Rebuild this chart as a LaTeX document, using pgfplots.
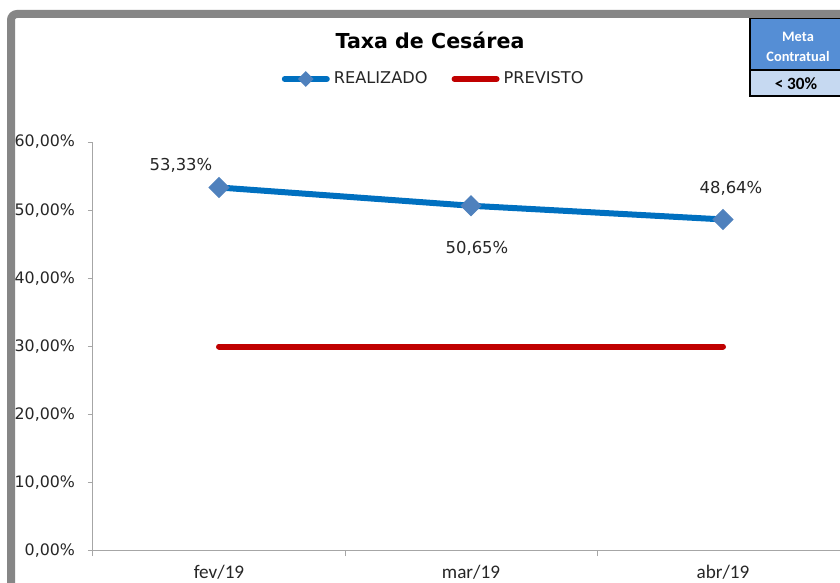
\documentclass[border=0pt]{standalone}
\usepackage{pgfplots}
\pgfplotsset{compat=1.18}
\usepackage{fontspec}
\setmainfont{DejaVu Sans}
\newfontfamily\carlito{Carlito}
\definecolor{realblue}{HTML}{0070C0}
\definecolor{markblue}{HTML}{4F81BD}
\definecolor{prevred}{HTML}{C00000}
\definecolor{axgray}{HTML}{A6A6A6}
\definecolor{boxblue}{HTML}{558ED5}
\definecolor{boxlight}{HTML}{C6D9F1}
\definecolor{txt}{HTML}{262626}
\begin{document}
\begin{tikzpicture}
\useasboundingbox (0,0) rectangle (420pt,291.5pt);
\clip (0,0) rectangle (420pt,291.5pt);
\fill[white] (0,0) rectangle (420pt,291.5pt);
\begin{axis}[
  at={(46.5pt,16pt)}, anchor=south west,
  scale only axis, width=378pt, height=204.5pt,
  xmin=-0.5, xmax=2.5, ymin=0, ymax=0.6,
  axis x line*=bottom, axis y line*=left,
  axis line style={axgray, line width=0.5pt},
  xtick={0,1,2}, xticklabels={fev/19,mar/19,abr/19},
  major x tick style={draw=none},
  minor xtick={-0.5,0.5,1.5,2.5},
  minor x tick style={axgray, line width=0.5pt},
  minor tick length=2.5pt,
  ytick={0,0.1,0.2,0.3,0.4,0.5,0.6},
  yticklabels={{0,00\%},{10,00\%},{20,00\%},{30,00\%},{40,00\%},{50,00\%},{60,00\%}},
  major y tick style={axgray, line width=0.5pt},
  major tick length=2.5pt,
  tick align=outside,
  xticklabel style={font=\carlito\fontsize{9.6pt}{11pt}\selectfont, text=txt, yshift=-1pt},
  yticklabel style={font=\fontsize{7.9pt}{9pt}\selectfont, text=txt, xshift=-3pt},
  legend style={at={(0.452,1.154)}, anchor=center, draw=none, fill=none,
    font=\fontsize{8.1pt}{10pt}\selectfont, text=txt,
    /tikz/every even column/.append style={column sep=10pt}},
  legend columns=2,
  legend cell align=left,
  clip=false,
]
\addplot[realblue, line width=3pt, mark=square*, mark size=3.5pt,
  mark options={rotate=45, fill=markblue, draw=markblue, line width=0.5pt},
  legend image code/.code={
    \draw[realblue, line width=3pt, line cap=round] (0pt,0pt) -- (21pt,0pt);
    \fill[markblue] (10.5pt,1.8pt) -- (12.3pt,0pt) -- (10.5pt,-1.8pt) -- (8.7pt,0pt) -- cycle;}]
  coordinates {(0,0.5333) (1,0.5065) (2,0.4864)};
\addlegendentry{REALIZADO}
\addplot[prevred, line width=3pt, line cap=round,
  legend image code/.code={
    \draw[prevred, line width=3pt, line cap=round] (0pt,0pt) -- (21pt,0pt);}]
  coordinates {(0,0.30) (1,0.30) (2,0.30)};
\addlegendentry{PREVISTO}
% data labels
\addplot[draw=none, mark=none, forget plot, nodes near coords, point meta=explicit symbolic,
  every node near coord/.style={anchor=center, xshift=-19pt, yshift=11pt, text=txt, font=\fontsize{8.2pt}{10pt}\selectfont}]
  coordinates {(0,0.5333) [53,33\%]};
\addplot[draw=none, mark=none, forget plot, nodes near coords, point meta=explicit symbolic,
  every node near coord/.style={anchor=center, xshift=3pt, yshift=-21.5pt, text=txt, font=\fontsize{8.2pt}{10pt}\selectfont}]
  coordinates {(1,0.5065) [50,65\%]};
\addplot[draw=none, mark=none, forget plot, nodes near coords, point meta=explicit symbolic,
  every node near coord/.style={anchor=center, xshift=4pt, yshift=15.5pt, text=txt, font=\fontsize{8.2pt}{10pt}\selectfont}]
  coordinates {(2,0.4864) [48,64\%]};
\end{axis}
% title
\node[font=\bfseries\fontsize{10.3pt}{12pt}\selectfont, text=black] at (215pt,271.5pt) {Taxa de Cesárea};
% meta box
\fill[boxblue] (375pt,256.5pt) rectangle (423pt,282.5pt);
\fill[boxlight] (375pt,243.5pt) rectangle (423pt,256.5pt);
\draw[black, line width=1pt] (375pt,243.5pt) rectangle (423pt,282.5pt);
\draw[black, line width=1pt] (375pt,256.5pt) -- (423pt,256.5pt);
\node[font=\carlito\bfseries\fontsize{7.2pt}{8pt}\selectfont, text=white] at (399pt,273pt) {Meta};
\node[font=\carlito\bfseries\fontsize{7.2pt}{8pt}\selectfont, text=white] at (399pt,263pt) {Contratual};
\node[font=\carlito\bfseries\fontsize{8.6pt}{9pt}\selectfont, text=black] at (398pt,249.8pt) {< 30\%};
% gray frame
\draw[gray!95, line width=4pt, rounded corners=3pt] (5.5pt,-5pt) -- (5.5pt,284.5pt) -- (430pt,284.5pt);
\end{tikzpicture}
\end{document}
